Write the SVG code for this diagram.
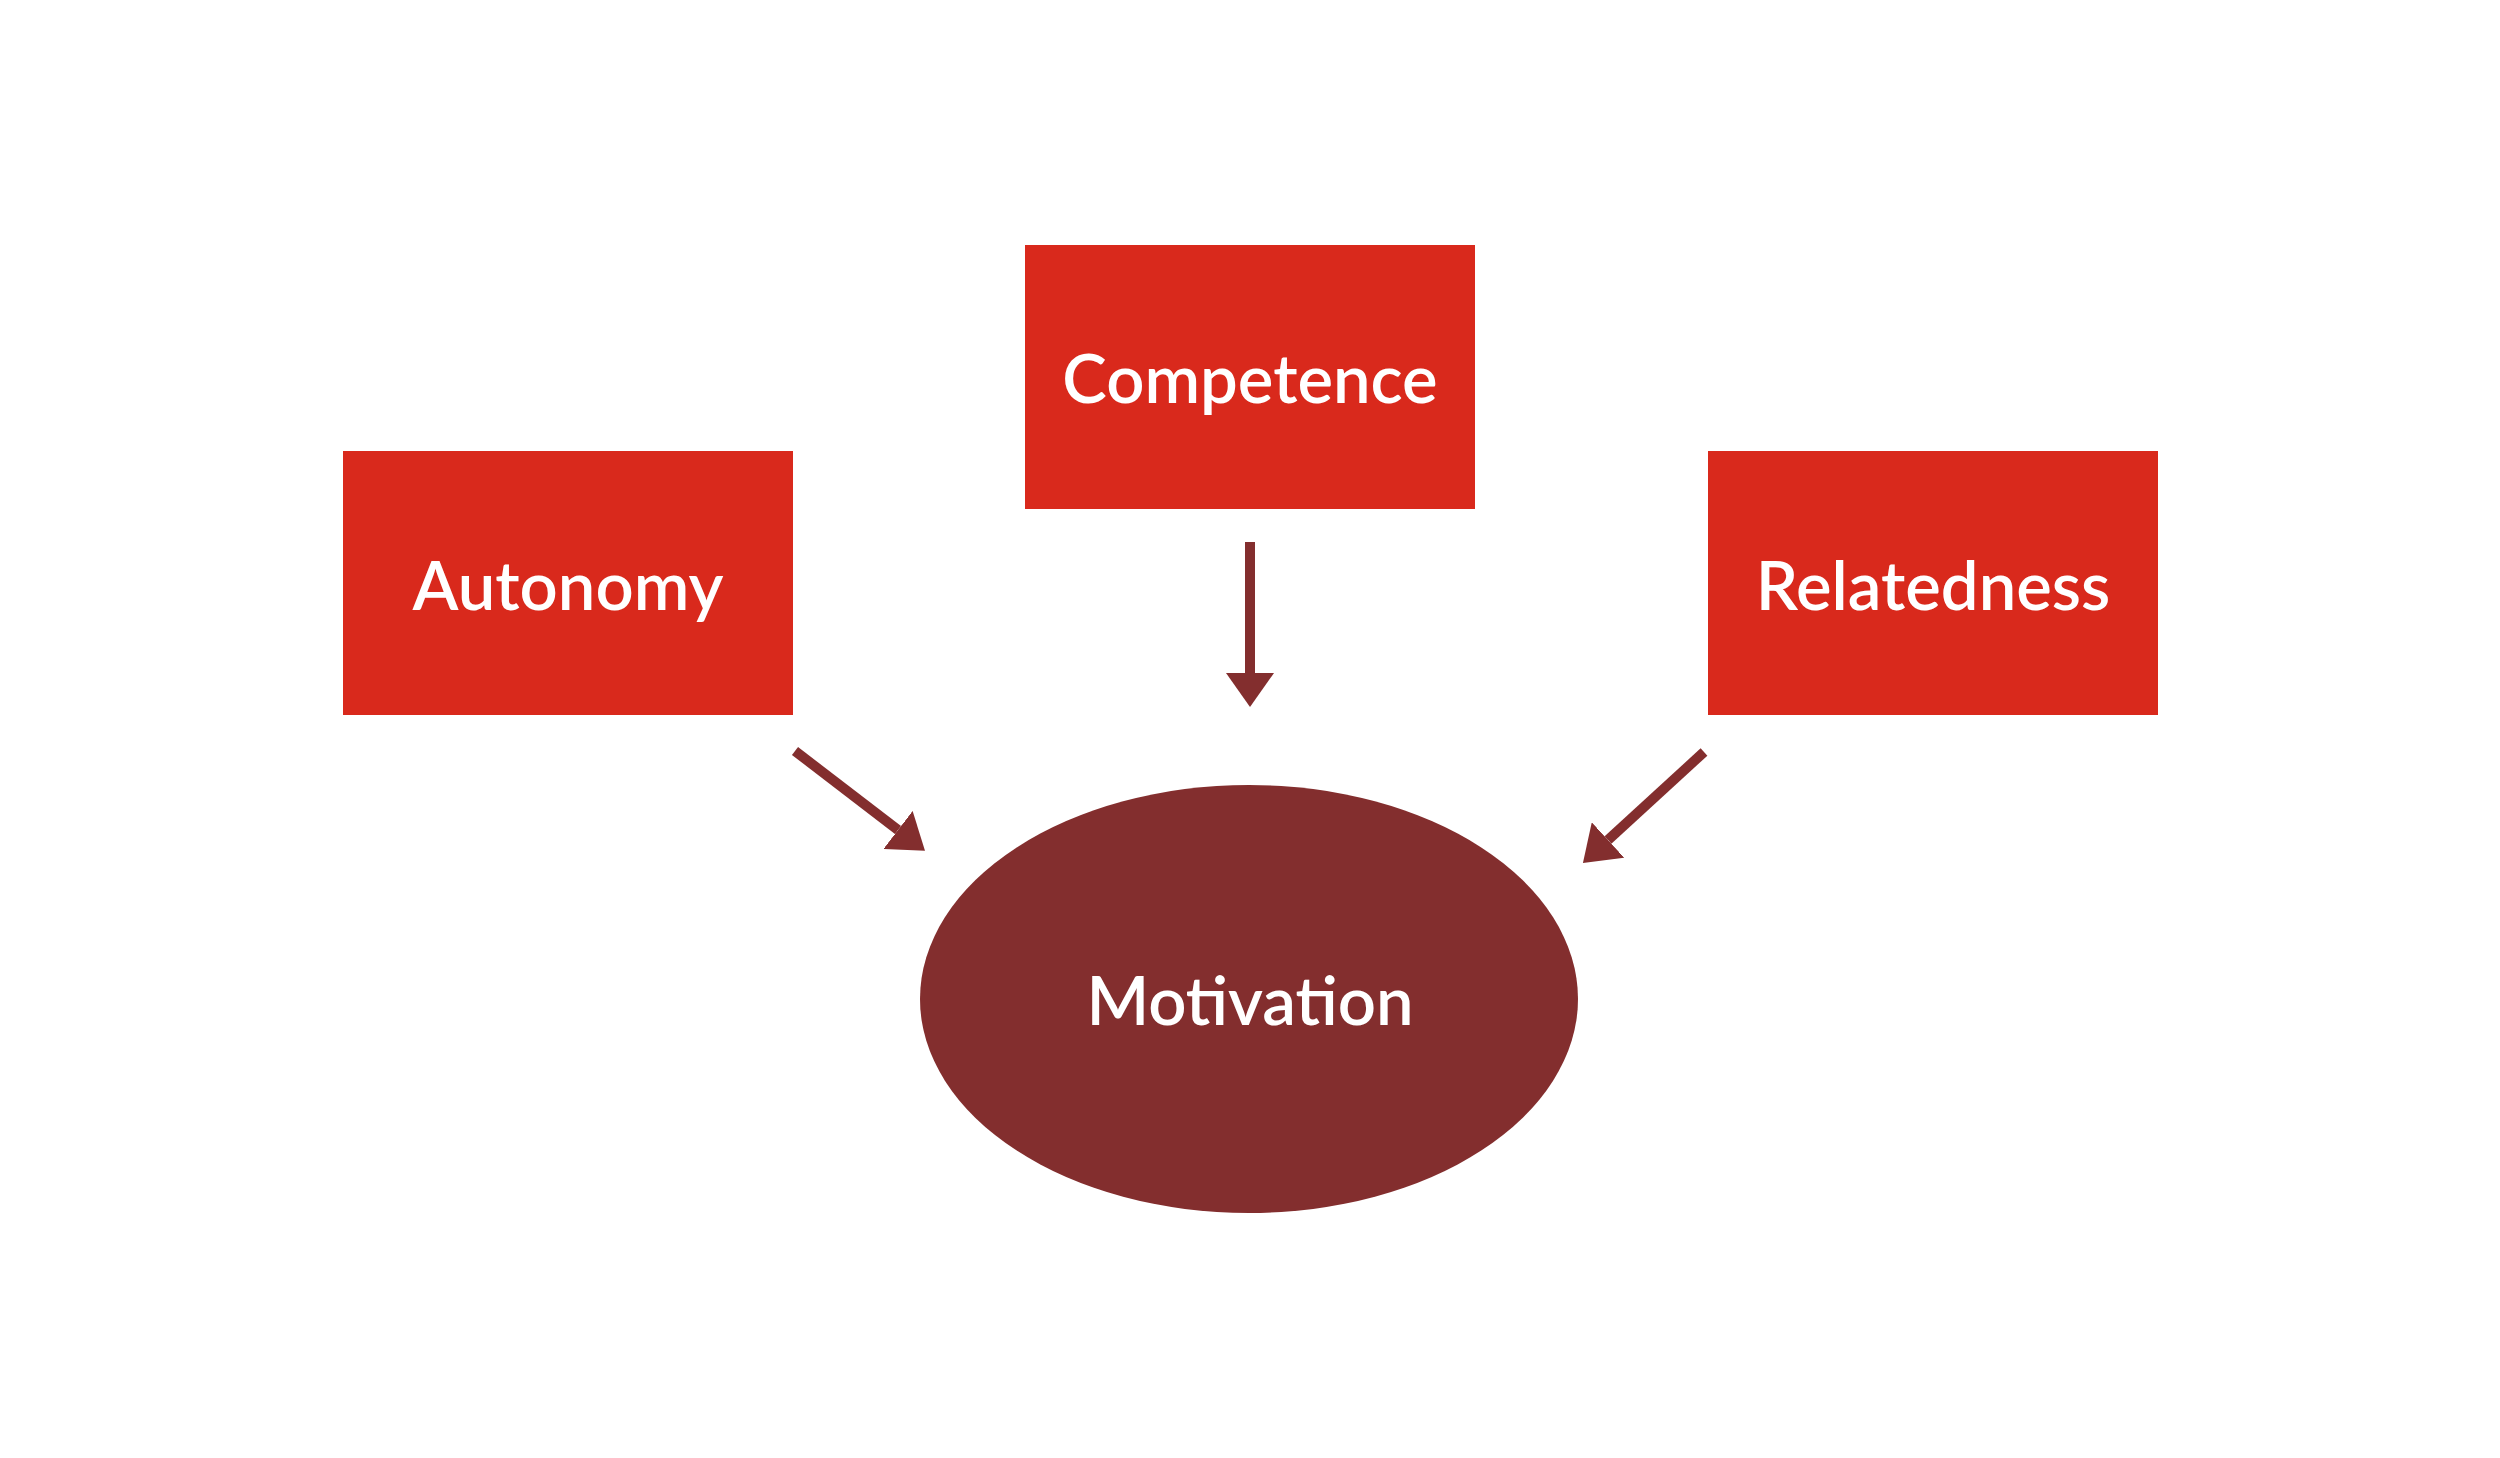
<svg xmlns="http://www.w3.org/2000/svg" width="2500" height="1458" viewBox="0 0 2500 1458">
  <style>
    .box { fill: #D9291C; }
    .oval { fill: #832E2E; }
    .label { font-family: Lato, "Open Sans", "Liberation Sans", sans-serif; font-size: 67px; font-weight: 600; fill: #FFFFFF; text-anchor: middle; }
    .conn { stroke: #832E2E; stroke-width: 10; fill: none; }
  </style>
  <defs>
    <marker id="head" viewBox="0 0 34 48" refX="0" refY="24" markerWidth="34" markerHeight="48" markerUnits="userSpaceOnUse" orient="auto">
      <path d="M0,0 L34,24 L0,48 z" fill="#832E2E"/>
    </marker>
  </defs>
  <rect width="2500" height="1458" fill="#FFFFFF"/>
  <g id="competence">
    <rect class="box" x="1025" y="245" width="450" height="264"/>
    <text class="label" x="1250" y="403">Competence</text>
  </g>
  <g id="autonomy">
    <rect class="box" x="343" y="451" width="450" height="264"/>
    <text class="label" x="568" y="610">Autonomy</text>
  </g>
  <g id="relatedness">
    <rect class="box" x="1708" y="451" width="450" height="264"/>
    <text class="label" x="1933" y="610">Relatedness</text>
  </g>
  <g id="motivation">
    <ellipse class="oval" cx="1249" cy="999" rx="329" ry="214"/>
    <text class="label" x="1250" y="1025">Motivation</text>
  </g>
  <g id="connectors">
    <line class="conn" x1="795" y1="751" x2="898" y2="830" marker-end="url(#head)"/>
    <line class="conn" x1="1250" y1="542" x2="1250" y2="673" marker-end="url(#head)"/>
    <line class="conn" x1="1704" y1="752" x2="1608" y2="840" marker-end="url(#head)"/>
  </g>
</svg>
